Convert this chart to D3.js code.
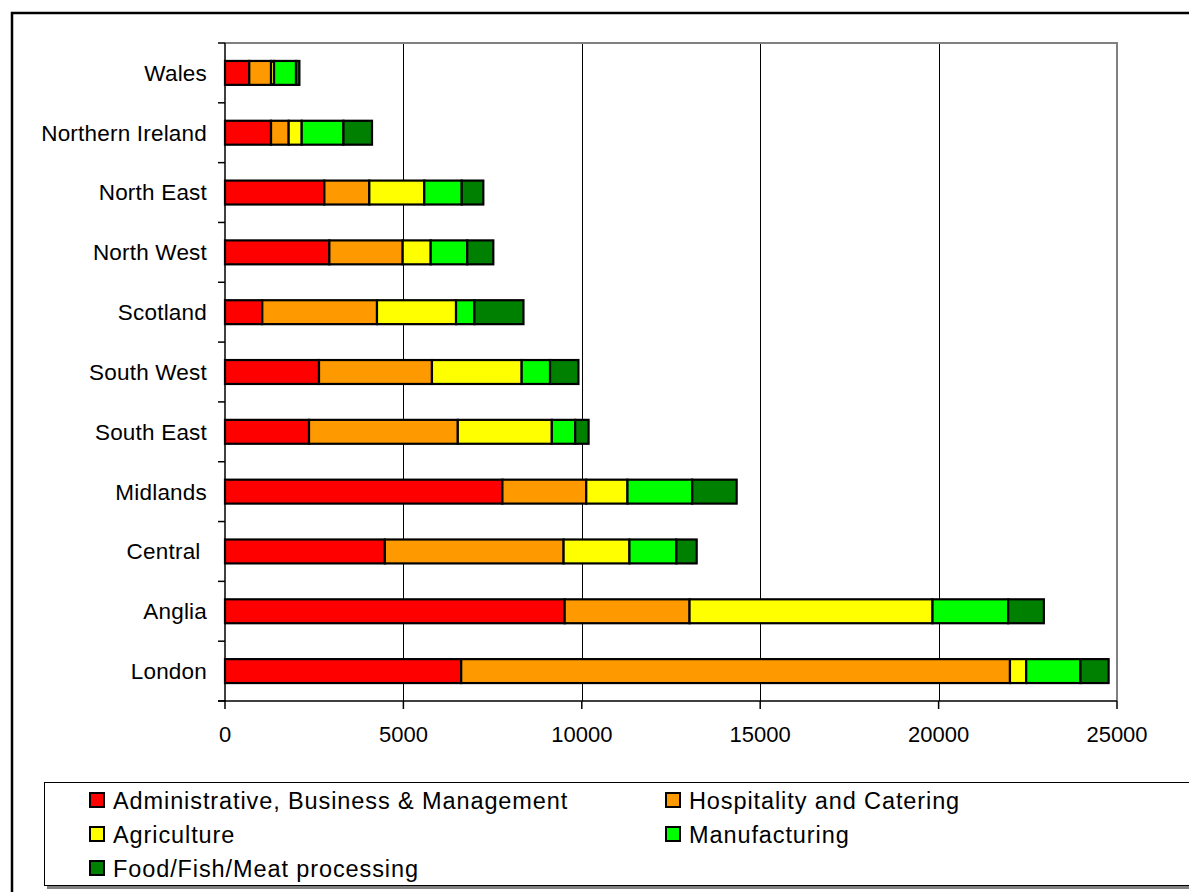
<!DOCTYPE html>
<html>
<head>
<meta charset="utf-8">
<script src="https://cdn.jsdelivr.net/npm/d3@7"></script>
<style>
  html, body { margin: 0; padding: 0; background: #fff; }
  svg { display: block; }
  text { font-family: "Liberation Sans", Arial, sans-serif; fill: #000; }
</style>
</head>
<body>
<svg id="chart" width="1189" height="892"></svg>
<script>
// ---- data ----
const categories = ["Wales", "Northern Ireland", "North East", "North West", "Scotland", "South West", "South East", "Midlands", "Central ", "Anglia", "London"];
const seriesNames = ["Administrative, Business & Management", "Hospitality and Catering", "Agriculture", "Manufacturing", "Food/Fish/Meat processing"];
const seriesColors = ["#FF0000", "#FF9900", "#FFFF00", "#00FF00", "#008000"];
const adminValues = [680, 1290, 2785, 2925, 1045, 2635, 2355, 7775, 4480, 9520, 6620];
const hospitalityValues = [610, 495, 1260, 2055, 3215, 3165, 4170, 2350, 5010, 3500, 15380];
const agricultureValues = [85, 365, 1540, 785, 2215, 2515, 2635, 1155, 1845, 6810, 455];
const manufacturingValues = [615, 1170, 1050, 1025, 515, 795, 655, 1815, 1315, 2120, 1520];
const foodValues = [95, 800, 605, 730, 1375, 795, 375, 1245, 570, 1000, 790];
const xTicks = [0, 5000, 10000, 15000, 20000, 25000];

const seriesValues = [adminValues, hospitalityValues, agricultureValues, manufacturingValues, foodValues];
const keys = ["s0", "s1", "s2", "s3", "s4"];
const table = categories.map((c, i) => {
  const row = { cat: c };
  keys.forEach((k, j) => row[k] = seriesValues[j][i]);
  return row;
});

// ---- layout ----
const svg = d3.select("#chart");
const plot = { left: 225, top: 43, right: 1117, bottom: 701 };

const x = d3.scaleLinear().domain([0, 25000]).range([plot.left, plot.right]);
const y = d3.scaleBand().domain(categories).range([plot.top, plot.bottom]).paddingInner(0.6).paddingOuter(0.3);
const yBand = d3.scaleBand().domain(categories).range([plot.top, plot.bottom]);

// outer chart frame
svg.append("rect").attr("x", 12).attr("y", 13).attr("width", 1300).attr("height", 1000)
  .attr("fill", "none").attr("stroke", "#000").attr("stroke-width", 2.5);

// gridlines
svg.append("g").selectAll("line").data(xTicks.slice(1, -1)).join("line")
  .attr("x1", d => Math.round(x(d)) + 0.5).attr("x2", d => Math.round(x(d)) + 0.5)
  .attr("y1", plot.top).attr("y2", plot.bottom)
  .attr("stroke", "#000").attr("stroke-width", 1);

// plot border (top, right) gray
svg.append("path")
  .attr("d", `M${plot.left},${plot.top}H${plot.right}V${plot.bottom}`)
  .attr("fill", "none").attr("stroke", "#808080").attr("stroke-width", 2);

// stacked bars
const stack = d3.stack().keys(keys)(table);
svg.append("g").selectAll("g").data(stack).join("g")
  .attr("fill", (d, i) => seriesColors[i])
  .selectAll("rect").data(d => d).join("rect")
  .attr("x", d => x(d[0]))
  .attr("y", d => y(d.data.cat))
  .attr("width", d => x(d[1]) - x(d[0]))
  .attr("height", y.bandwidth())
  .attr("stroke", "#000").attr("stroke-width", 2.2);

// y axis
const yAxis = svg.append("g").attr("transform", `translate(${plot.left},0)`);
yAxis.append("line").attr("x1", 0).attr("x2", 0).attr("y1", plot.top).attr("y2", plot.bottom + 1)
  .attr("stroke", "#000").attr("stroke-width", 1.5);
const boundaries = categories.map(c => yBand(c)).concat([plot.bottom]);
yAxis.selectAll("line.tick").data(boundaries).join("line").attr("class", "tick")
  .attr("x1", -7).attr("x2", 0).attr("y1", d => d).attr("y2", d => d)
  .attr("stroke", "#000").attr("stroke-width", 1.5);
yAxis.selectAll("text").data(categories).join("text")
  .attr("x", -18).attr("y", d => yBand(d) + yBand.bandwidth() / 2)
  .attr("dy", "0.35em").attr("text-anchor", "end")
  .style("white-space", "pre")
  .attr("font-size", 22.5).attr("letter-spacing", 0.2)
  .text(d => d);

// x axis
const xAxis = svg.append("g");
xAxis.append("line").attr("x1", plot.left - 7).attr("x2", plot.right).attr("y1", plot.bottom).attr("y2", plot.bottom)
  .attr("stroke", "#000").attr("stroke-width", 1.5);
xAxis.selectAll("line.tick").data(xTicks).join("line").attr("class", "tick")
  .attr("x1", d => x(d)).attr("x2", d => x(d)).attr("y1", plot.bottom).attr("y2", plot.bottom + 8)
  .attr("stroke", "#000").attr("stroke-width", 1.5);
xAxis.selectAll("text").data(xTicks).join("text")
  .attr("x", d => x(d)).attr("y", 742)
  .attr("text-anchor", "middle").attr("font-size", 22)
  .text(d => d);

// legend
const legend = svg.append("g");
legend.append("line").attr("x1", 47).attr("x2", 1250).attr("y1", 887.5).attr("y2", 887.5)
  .attr("stroke", "#808080").attr("stroke-width", 3);
legend.append("rect").attr("x", 44.5).attr("y", 782.5).attr("width", 1200).attr("height", 103)
  .attr("fill", "#fff").attr("stroke", "#000").attr("stroke-width", 1);
const colX = [90, 666];
const rowY = [793, 827, 861];
const items = legend.selectAll("g.item").data(seriesNames).join("g").attr("class", "item")
  .attr("transform", (d, i) => `translate(${colX[i % 2]},${rowY[Math.floor(i / 2)]})`);
items.append("rect").attr("x", 0).attr("y", 0).attr("width", 14).attr("height", 14)
  .attr("fill", (d, i) => seriesColors[i]).attr("stroke", "#000").attr("stroke-width", 2);
items.append("text").attr("x", 23).attr("y", 15.5)
  .attr("font-size", 23.5).attr("letter-spacing", 0.9)
  .text(d => d);
</script>
</body>
</html>
